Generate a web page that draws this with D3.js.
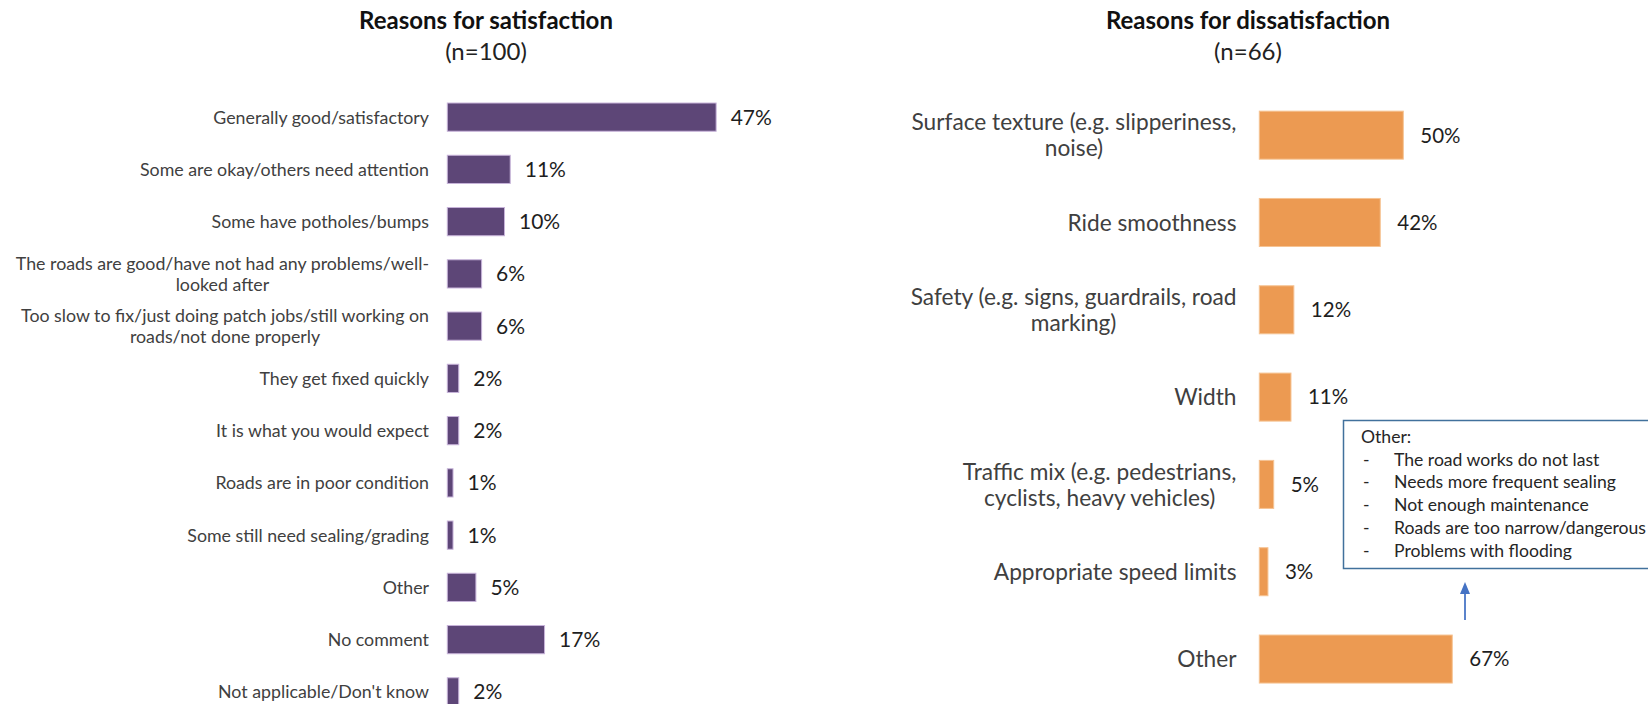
<!DOCTYPE html>
<html>
<head>
<meta charset="utf-8">
<script src="https://cdn.jsdelivr.net/npm/d3@7"></script>
<style>
  html, body { margin: 0; padding: 0; background: #fff; }
  svg { display: block; font-family: Lato, "Open Sans", sans-serif; }
</style>
</head>
<body>
<svg id="chart" width="1648" height="704"></svg>
<script>
// Reasons for satisfaction (n=100)
const satCategories = [
  "Generally good/satisfactory",
  "Some are okay/others need attention",
  "Some have potholes/bumps",
  "The roads are good/have not had any problems/well-\nlooked after",
  "Too slow to fix/just doing patch jobs/still working on\nroads/not done properly",
  "They get fixed quickly",
  "It is what you would expect",
  "Roads are in poor condition",
  "Some still need sealing/grading",
  "Other",
  "No comment",
  "Not applicable/Don't know"
];
const satValues = [47, 11, 10, 6, 6, 2, 2, 1, 1, 5, 17, 2];

// Reasons for dissatisfaction (n=66)
const disCategories = [
  "Surface texture (e.g. slipperiness,\nnoise)",
  "Ride smoothness",
  "Safety (e.g. signs, guardrails, road\nmarking)",
  "Width",
  "Traffic mix (e.g. pedestrians,\ncyclists, heavy vehicles)",
  "Appropriate speed limits",
  "Other"
];
const disValues = [50, 42, 12, 11, 5, 3, 67];

// Breakdown of "Other" dissatisfaction reasons
const otherHeading = "Other:";
const otherItems = [
  "The road works do not last",
  "Needs more frequent sealing",
  "Not enough maintenance",
  "Roads are too narrow/dangerous",
  "Problems with flooding"
];

const svg = d3.select("#chart");

function drawPanel(cfg) {
  const g = svg.append("g");
  const data = cfg.categories.map((c, i) => ({ cat: c, val: cfg.values[i] }));

  const x = d3.scaleLinear().domain([0, 1]).range([cfg.x0, cfg.x0 + cfg.pxPerUnit]);
  const y = d3.scaleBand()
    .domain(cfg.categories)
    .range(cfg.yRange)
    .paddingInner(cfg.pad)
    .paddingOuter(cfg.pad / 2);

  // titles
  g.append("text")
    .attr("x", cfg.titleX).attr("y", 29)
    .attr("text-anchor", "middle")
    .attr("font-weight", 700).attr("font-size", 24).attr("fill", "#111")
    .text(cfg.title);
  g.append("text")
    .attr("x", cfg.titleX).attr("y", 60)
    .attr("text-anchor", "middle")
    .attr("font-size", 24).attr("fill", "#222")
    .text(cfg.subtitle);

  // bars
  g.selectAll("rect.bar").data(data).join("rect")
    .attr("class", "bar")
    .attr("x", x(0))
    .attr("y", d => y(d.cat))
    .attr("width", d => x(d.val) - x(0))
    .attr("height", y.bandwidth())
    .attr("fill", cfg.color)
    .attr("stroke", cfg.stroke)
    .attr("stroke-width", 1);

  // value labels
  g.selectAll("text.val").data(data).join("text")
    .attr("class", "val")
    .attr("x", d => x(d.val) + cfg.valGap)
    .attr("y", d => y(d.cat) + y.bandwidth() / 2)
    .attr("dy", "0.36em")
    .attr("font-size", cfg.valSize).attr("fill", "#1e1e1e")
    .text(d => d.val + "%");

  // category labels: block right-aligned, lines centred within the block
  data.forEach(d => {
    const lines = d.cat.split("\n");
    const t = g.append("text")
      .attr("font-size", cfg.labelSize).attr("fill", "#404040")
      .attr("text-anchor", "middle");
    const cy = y(d.cat) + y.bandwidth() / 2;
    const top = cy - (lines.length - 1) * cfg.lineH / 2;
    const spans = lines.map((ln, i) => t.append("tspan")
      .attr("y", top + i * cfg.lineH).attr("dy", "0.36em").text(ln));
    const w = d3.max(spans, s => s.node().getComputedTextLength());
    spans.forEach(s => s.attr("x", cfg.labelRight - w / 2));
  });
}

drawPanel({
  title: "Reasons for satisfaction", subtitle: "(n=100)", titleX: 486,
  categories: satCategories, values: satValues,
  x0: 447.3, pxPerUnit: 5.72, yRange: [91, 718], pad: 0.46,
  color: "#5d4677", stroke: "#c7b3d9", valGap: 14.5, valSize: 21,
  labelRight: 429, labelSize: 17.8, lineH: 21
});

drawPanel({
  title: "Reasons for dissatisfaction", subtitle: "(n=66)", titleX: 1248,
  categories: disCategories, values: disValues,
  x0: 1259.3, pxPerUnit: 2.88, yRange: [91.5, 702.7], pad: 0.45,
  color: "#ec9a52", stroke: "#f6c393", valGap: 17, valSize: 20.5,
  labelRight: 1236.5, labelSize: 22.7, lineH: 26
});

// note box listing the "Other" reasons
const note = svg.append("g");
note.append("rect")
  .attr("x", 1343.5).attr("y", 420.5)
  .attr("width", 340).attr("height", 148)
  .attr("fill", "#fff").attr("stroke", "#41719c").attr("stroke-width", 1.5);
note.append("text")
  .attr("x", 1361).attr("y", 442.5)
  .attr("font-size", 17.6).attr("fill", "#262626")
  .text(otherHeading);
otherItems.forEach((item, i) => {
  const yy = 465.5 + i * 22.8;
  note.append("text").attr("x", 1363).attr("y", yy)
    .attr("font-size", 17.6).attr("fill", "#262626").text("-");
  note.append("text").attr("x", 1394).attr("y", yy)
    .attr("font-size", 17.6).attr("fill", "#262626").text(item);
});

// arrow pointing from the "Other" bar up to the note
note.append("line")
  .attr("x1", 1465).attr("y1", 620).attr("x2", 1465).attr("y2", 592)
  .attr("stroke", "#4472c4").attr("stroke-width", 1.75);
note.append("path")
  .attr("d", "M1465,582 L1460,594 L1470,594 Z")
  .attr("fill", "#4472c4");
</script>
</body>
</html>
